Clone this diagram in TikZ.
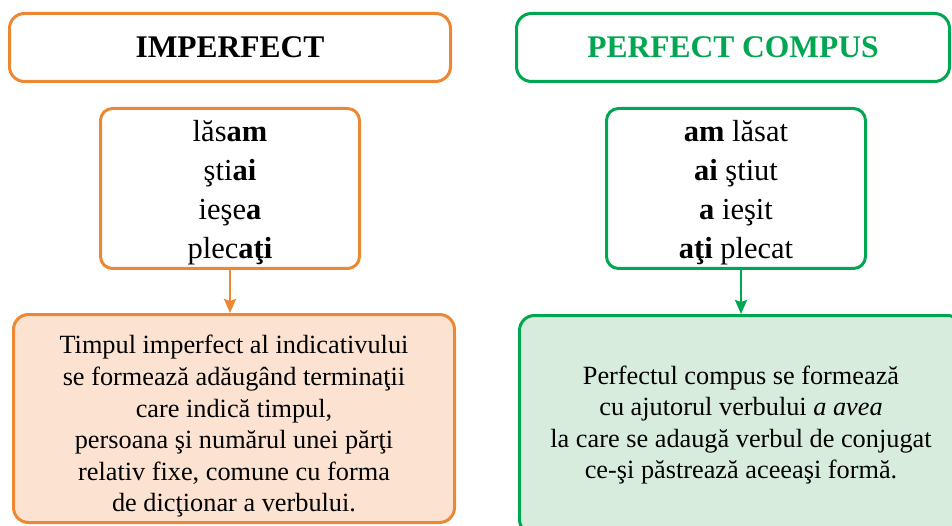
\documentclass[tikz,border=0pt]{standalone}
\usepackage{fontspec}
\setmainfont{Liberation Serif}
\usetikzlibrary{arrows.meta}
\definecolor{ImpOrange}{RGB}{236,135,52}
\definecolor{PerfGreen}{RGB}{0,166,81}
\definecolor{LightOrange}{RGB}{252,227,209}
\definecolor{LightGreen}{RGB}{216,236,222}
\tikzstyle{titleBlock}=[draw,rounded corners=15pt,line width=3pt,minimum height=68pt,inner sep=0pt,font=\fontsize{31.5}{37}\selectfont\bfseries]
\tikzstyle{formBlock}=[draw,rounded corners=12pt,line width=3pt,minimum width=259pt,minimum height=160pt,inner sep=0pt]
\tikzstyle{formText}=[inner sep=0pt,align=center,font=\fontsize{30.5}{39}\selectfont]
\tikzstyle{ruleBlock}=[draw,rounded corners=15pt,line width=3pt,inner sep=0pt]
\tikzstyle{ruleText}=[inner sep=0pt,align=center,font=\fontsize{26.3}{31.6}\selectfont]
\tikzstyle{formArrow}=[-{Stealth[length=14pt,width=12pt,inset=2pt]}, line width=2.5pt]

\begin{document}
\begin{tikzpicture}[x=1pt,y=-1pt]
    \useasboundingbox (0,0) rectangle (952,526);
    \clip (0,0) rectangle (952,526);

    % Imperfect side
    \node[titleBlock,draw=ImpOrange,minimum width=441pt] (impTitle) at (230,47.5) {IMPERFECT};
    \node[formBlock,draw=ImpOrange] (impForms) at (230,188.5) {};
    \node[formText] (impFormsText) at ([yshift=-4pt]impForms.center) {lăs\textbf{am}\\ şti\textbf{ai}\\ ieşe\textbf{a}\\ plec\textbf{aţi}};
    \node[ruleBlock,draw=ImpOrange,fill=LightOrange,minimum width=441pt,minimum height=208pt] (impRule) at (234,418.5) {};
    \node[ruleText] (impRuleText) at ([yshift=-8pt]impRule.center)
        {Timpul imperfect al indicativului\\ se formează adăugând terminaţii\\ care indică timpul,\\ persoana şi numărul unei părţi\\ relativ fixe, comune cu forma\\ de dicţionar a verbului.};
    \draw[formArrow,ImpOrange] (impForms.south) -- (impForms.south |- impRule.north);

    % Perfect compus side
    \node[titleBlock,draw=PerfGreen,text=PerfGreen,minimum width=433pt] (perfTitle) at (733,47.5) {PERFECT COMPUS};
    \node[formBlock,draw=PerfGreen] (perfForms) at (736,188.5) {};
    \node[formText] (perfFormsText) at ([yshift=-4pt]perfForms.center) {\textbf{am} lăsat\\ \textbf{ai} ştiut\\ \textbf{a} ieşit\\ \textbf{aţi} plecat};
    \node[ruleBlock,draw=PerfGreen,fill=LightGreen,minimum width=443pt,minimum height=219pt] (perfRule) at (741,425) {};
    \node[ruleText] (perfRuleText) at (perfRule.center)
        {Perfectul compus se formează\\ cu ajutorul verbului \textit{a avea}\\ la care se adaugă verbul de conjugat\\ ce-şi păstrează aceeaşi formă.};
    \draw[formArrow,PerfGreen] (perfForms.south -| perfRule.north) -- (perfRule.north);

\end{tikzpicture}
\end{document}
